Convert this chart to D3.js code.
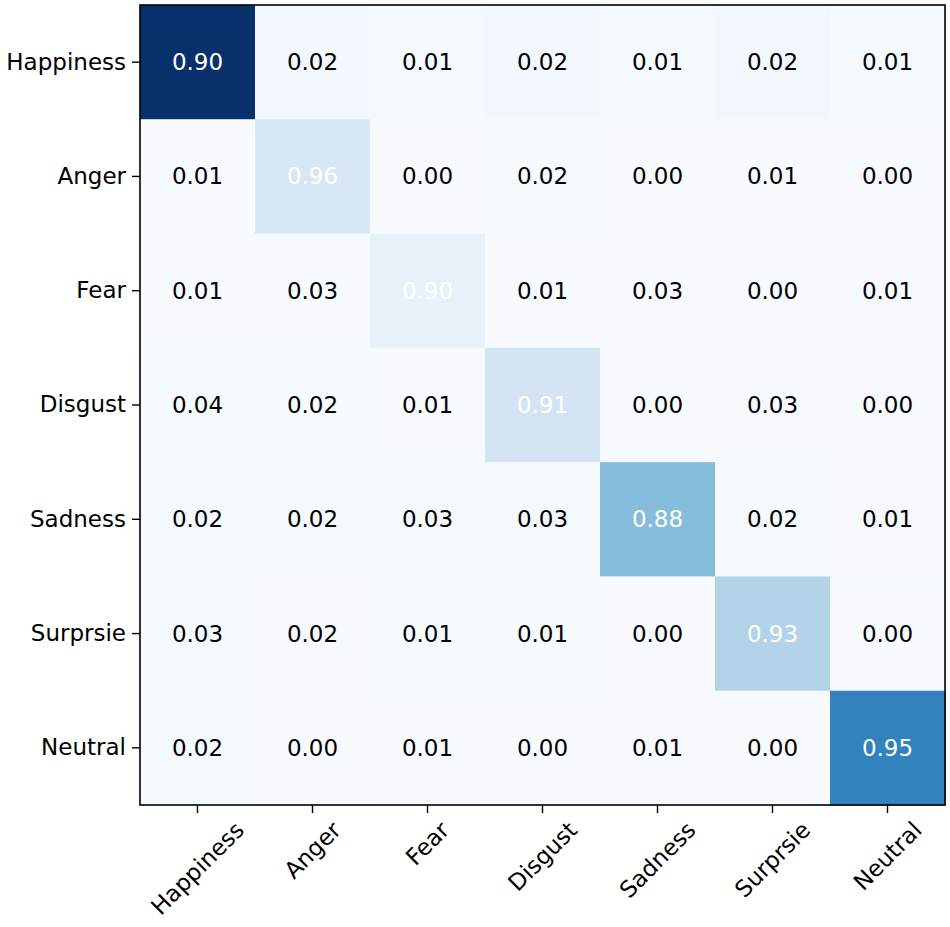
<!DOCTYPE html>
<html>
<head>
<meta charset="utf-8">
<script src="https://cdn.jsdelivr.net/npm/d3@7"></script>
<style>
  body { margin: 0; background: #fff; }
  text { font-family: "DejaVu Sans", sans-serif; }
</style>
</head>
<body>
<script>
// class labels (typo kept from the original figure)
const classes = ["Happiness", "Anger", "Fear", "Disgust", "Sadness", "Surprsie", "Neutral"];

// normalised confusion matrix, rows = true class
const matrix = [
  [0.90, 0.02, 0.01, 0.02, 0.01, 0.02, 0.01],
  [0.01, 0.96, 0.00, 0.02, 0.00, 0.01, 0.00],
  [0.01, 0.03, 0.90, 0.01, 0.03, 0.00, 0.01],
  [0.04, 0.02, 0.01, 0.91, 0.00, 0.03, 0.00],
  [0.02, 0.02, 0.03, 0.03, 0.88, 0.02, 0.01],
  [0.03, 0.02, 0.01, 0.01, 0.00, 0.93, 0.00],
  [0.02, 0.00, 0.01, 0.00, 0.01, 0.00, 0.95]
];

// estimated samples per true class (the cell shading follows raw counts)
const support = [2000, 300, 150, 350, 880, 600, 1300];

const width = 950, height = 927;
const margin = { top: 5, right: 5, bottom: 122, left: 140 };
const fs = 23;

const svg = d3.select("body").append("svg")
  .attr("width", width)
  .attr("height", height);

const x = d3.scaleBand().domain(d3.range(classes.length))
  .range([margin.left, width - margin.right]);
const y = d3.scaleBand().domain(d3.range(classes.length))
  .range([margin.top, height - margin.bottom]);

const cells = [];
matrix.forEach((row, i) => row.forEach((v, j) => {
  cells.push({ i, j, v, count: v * support[i] });
}));

const color = d3.scaleSequential(d3.interpolateBlues)
  .domain([0, d3.max(cells, d => d.count)]);

svg.append("g")
  .selectAll("rect")
  .data(cells)
  .join("rect")
  .attr("x", d => x(d.j))
  .attr("y", d => y(d.i))
  .attr("width", x.bandwidth() + 0.5)
  .attr("height", y.bandwidth() + 0.5)
  .attr("fill", d => color(d.count));

svg.append("g")
  .selectAll("text")
  .data(cells)
  .join("text")
  .attr("x", d => x(d.j) + x.bandwidth() / 2)
  .attr("y", d => y(d.i) + y.bandwidth() / 2)
  .attr("text-anchor", "middle")
  .attr("dominant-baseline", "central")
  .attr("font-size", fs)
  .attr("fill", d => d.v > 0.5 ? "#ffffff" : "#000000")
  .text(d => d.v.toFixed(2));

// frame
svg.append("rect")
  .attr("x", margin.left)
  .attr("y", margin.top)
  .attr("width", width - margin.left - margin.right)
  .attr("height", height - margin.top - margin.bottom)
  .attr("fill", "none")
  .attr("stroke", "#000")
  .attr("stroke-width", 1.6);

// y axis
const yAxis = svg.append("g")
  .attr("transform", `translate(${margin.left},0)`)
  .call(d3.axisLeft(y).tickFormat(i => classes[i]).tickSize(8).tickPadding(6));
yAxis.select(".domain").remove();
yAxis.selectAll("line").attr("stroke-width", 1.4);
yAxis.selectAll("text").attr("font-size", fs).attr("fill", "#000")
  .attr("font-family", "DejaVu Sans, sans-serif");

// x axis, labels rotated 45deg and centred under the tick
const xAxis = svg.append("g")
  .attr("transform", `translate(0,${height - margin.bottom})`)
  .call(d3.axisBottom(x).tickFormat(i => classes[i]).tickSize(8));
xAxis.select(".domain").remove();
xAxis.selectAll("line").attr("stroke-width", 1.4);
xAxis.selectAll("text")
  .attr("font-size", fs)
  .attr("fill", "#000")
  .attr("font-family", "DejaVu Sans, sans-serif")
  .attr("text-anchor", "middle")
  .attr("dominant-baseline", "central")
  .attr("dy", null)
  .each(function () {
    const w = this.getComputedTextLength();
    const h = fs * 1.1;
    const cy = 12 + 0.7071 * (w + h) / 2;
    d3.select(this)
      .attr("y", cy)
      .attr("transform", `rotate(-45,0,${cy})`);
  });
</script>
</body>
</html>
